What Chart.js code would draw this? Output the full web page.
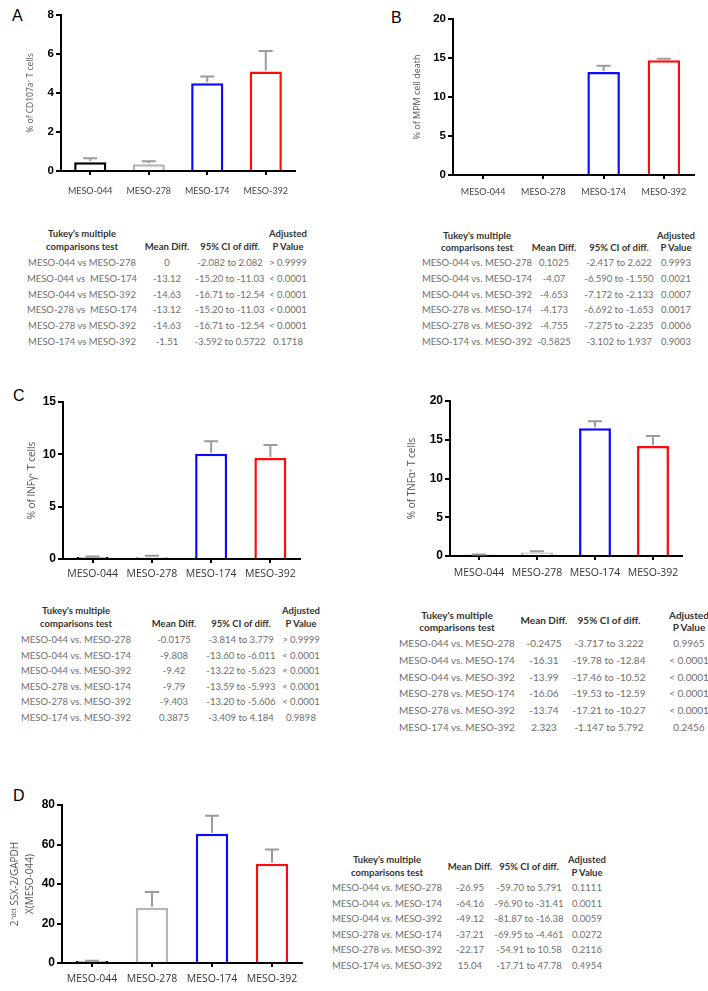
<!DOCTYPE html>
<html>
<head>
<meta charset="utf-8">
<script src="https://cdn.jsdelivr.net/npm/chart.js@4.4.0/dist/chart.umd.min.js"></script>
<style>
  html, body { margin: 0; padding: 0; background: #fff; }
  #page { position: relative; width: 708px; height: 991px; overflow: hidden; }
  canvas { position: absolute; }
  .letter { position: absolute; font: 16px 'Liberation Sans', Arial, sans-serif; line-height: 1; color: #000; }
  .cell { position: absolute; transform: translate(-50%, -50%); white-space: pre; color: #6e6e6e; font-family: Lato, sans-serif; }
  .cell.hd { color: #333; font-weight: bold; }
</style>
</head>
<body>
<div id="page">
  <div class="letter" style="left:12px;top:8px">A</div>
  <div class="letter" style="left:391px;top:10px">B</div>
  <div class="letter" style="left:13px;top:388px">C</div>
  <div class="letter" style="left:13px;top:788px">D</div>
  <canvas id="chartA" width="300" height="205" style="left:0;top:0"></canvas>
  <canvas id="chartB" width="345" height="209" style="left:354px;top:0"></canvas>
  <canvas id="chartC" width="305" height="204" style="left:0;top:385px"></canvas>
  <canvas id="chartT" width="335" height="204" style="left:354px;top:385px"></canvas>
  <canvas id="chartD" width="310" height="201" style="left:0;top:790px"></canvas>
</div>
<script>
'use strict';

/* ── Data ───────────────────────────────────────────────────────── */
const groups = ['MESO-044', 'MESO-278', 'MESO-174', 'MESO-392'];

const cd107aMean = [0.45, 0.35, 4.5, 5.1];
const cd107aSem  = [0.2, 0.15, 0.35, 1.05];
const cd107aTicks = [0, 2, 4, 6, 8];

const mpmDeathMean = [0, 0, 13.2, 14.7];
const mpmDeathSem  = [0, 0, 0.8, 0.2];
const mpmDeathTicks = [0, 5, 10, 15, 20];

const ifngMean = [0.2, 0.2, 10.05, 9.65];
const ifngSem  = [0.05, 0.1, 1.2, 1.25];
const ifngTicks = [0, 5, 10, 15];

const tnfaMean = [0.15, 0.45, 16.5, 14.2];
const tnfaSem  = [0.05, 0.15, 0.9, 1.3];
const tnfaTicks = [0, 5, 10, 15, 20];

const ssx2Mean = [1.0, 28, 65.5, 50.2];
const ssx2Sem  = [0.2, 8, 9, 7.3];
const ssx2Ticks = [0, 20, 40, 60, 80];

const statsA = [
  ['MESO-044 vs MESO-278', '0', '-2.082 to 2.082', '> 0.9999'],
  ['MESO-044 vs  MESO-174', '-13.12', '-15.20 to -11.03', '< 0.0001'],
  ['MESO-044 vs MESO-392', '-14.63', '-16.71 to -12.54', '< 0.0001'],
  ['MESO-278 vs  MESO-174', '-13.12', '-15.20 to -11.03', '< 0.0001'],
  ['MESO-278 vs MESO-392', '-14.63', '-16.71 to -12.54', '< 0.0001'],
  ['MESO-174 vs MESO-392', '-1.51', '-3.592 to 0.5722', '0.1718'],
];
const statsB = [
  ['MESO-044 vs. MESO-278', '0.1025', '-2.417 to 2.622', '0.9993'],
  ['MESO-044 vs. MESO-174', '-4.07', '-6.590 to -1.550', '0.0021'],
  ['MESO-044 vs. MESO-392', '-4.653', '-7.172 to -2.133', '0.0007'],
  ['MESO-278 vs. MESO-174', '-4.173', '-6.692 to -1.653', '0.0017'],
  ['MESO-278 vs. MESO-392', '-4.755', '-7.275 to -2.235', '0.0006'],
  ['MESO-174 vs. MESO-392', '-0.5825', '-3.102 to 1.937', '0.9003'],
];
const statsC = [
  ['MESO-044 vs. MESO-278', '-0.0175', '-3.814 to 3.779', '> 0.9999'],
  ['MESO-044 vs. MESO-174', '-9.808', '-13.60 to -6.011', '< 0.0001'],
  ['MESO-044 vs. MESO-392', '-9.42', '-13.22 to -5.623', '< 0.0001'],
  ['MESO-278 vs. MESO-174', '-9.79', '-13.59 to -5.993', '< 0.0001'],
  ['MESO-278 vs. MESO-392', '-9.403', '-13.20 to -5.606', '< 0.0001'],
  ['MESO-174 vs. MESO-392', '0.3875', '-3.409 to 4.184', '0.9898'],
];
const statsT = [
  ['MESO-044 vs. MESO-278', '-0.2475', '-3.717 to 3.222', '0.9965'],
  ['MESO-044 vs. MESO-174', '-16.31', '-19.78 to -12.84', '< 0.0001'],
  ['MESO-044 vs. MESO-392', '-13.99', '-17.46 to -10.52', '< 0.0001'],
  ['MESO-278 vs. MESO-174', '-16.06', '-19.53 to -12.59', '< 0.0001'],
  ['MESO-278 vs. MESO-392', '-13.74', '-17.21 to -10.27', '< 0.0001'],
  ['MESO-174 vs. MESO-392', '2.323', '-1.147 to 5.792', '0.2456'],
];
const statsD = [
  ['MESO-044 vs. MESO-278', '-26.95', '-59.70 to 5.791', '0.1111'],
  ['MESO-044 vs. MESO-174', '-64.16', '-96.90 to -31.41', '0.0011'],
  ['MESO-044 vs. MESO-392', '-49.12', '-81.87 to -16.38', '0.0059'],
  ['MESO-278 vs. MESO-174', '-37.21', '-69.95 to -4.461', '0.0272'],
  ['MESO-278 vs. MESO-392', '-22.17', '-54.91 to 10.58', '0.2116'],
  ['MESO-174 vs. MESO-392', '15.04', '-17.71 to 47.78', '0.4954'],
];

const barColors = ['#000000', '#b5b5b5', '#0a0aff', '#ff0a0a'];

/* ── Error bars (SEM, upper side only) ──────────────────────────── */
const errorBars = {
  id: 'errorBars',
  afterDatasetsDraw(chart) {
    const ds = chart.data.datasets[0];
    const meta = chart.getDatasetMeta(0);
    const y = chart.scales.y;
    const ctx = chart.ctx;
    ctx.save();
    ctx.strokeStyle = '#9b9b9b';
    ctx.lineWidth = 2;
    meta.data.forEach((bar, i) => {
      const e = ds.errors[i];
      if (!e) return;
      const y0 = y.getPixelForValue(ds.data[i]) - 1;
      const y1 = y.getPixelForValue(ds.data[i] + e);
      ctx.beginPath();
      ctx.moveTo(bar.x, y0);
      ctx.lineTo(bar.x, y1);
      ctx.moveTo(bar.x - 7, y1);
      ctx.lineTo(bar.x + 7, y1);
      ctx.stroke();
    });
    ctx.restore();
  },
};

/* ── Chart builder ──────────────────────────────────────────────── */
function makeChart(id, means, sems, ticks, o) {
  new Chart(document.getElementById(id), {
    type: 'bar',
    data: {
      labels: groups,
      datasets: [{
        data: means,
        errors: sems,
        backgroundColor: '#ffffff',
        borderColor: barColors,
        borderWidth: 2.5,
        borderSkipped: 'start',
        categoryPercentage: 1,
        barPercentage: o.barPct,
      }],
    },
    plugins: [errorBars],
    options: {
      responsive: false,
      devicePixelRatio: 1,
      animation: false,
      events: [],
      layout: { padding: { top: o.padTop, right: o.padRight, left: 0, bottom: 0 } },
      plugins: { legend: { display: false }, tooltip: { enabled: false } },
      scales: {
        x: {
          grid: { display: true, drawOnChartArea: false, drawTicks: true, tickLength: 4,
                  offset: false, color: '#000', lineWidth: 2 },
          border: { display: true, color: '#000', width: 2 },
          ticks: { autoSkip: false, maxRotation: 0, padding: o.xPad, color: o.catColor,
                   font: { family: o.catFamily, size: o.catSize } },
          afterFit: s => { s.height = o.xH; },
        },
        y: {
          min: ticks[0],
          max: ticks[ticks.length - 1],
          afterBuildTicks: s => { s.ticks = ticks.map(v => ({ value: v })); },
          grid: { display: true, drawOnChartArea: false, drawTicks: true, tickLength: 5,
                  color: '#000', lineWidth: 2 },
          border: { display: true, color: '#000', width: 2 },
          ticks: { padding: 2, color: '#000',
                   font: { family: "'Liberation Sans', Arial, sans-serif", weight: 'bold', size: o.tickSize } },
          title: { display: true, text: o.title, color: '#555',
                   padding: { top: o.titlePad, bottom: 0 },
                   font: { family: "'Open Sans', sans-serif", size: o.titleSize, lineHeight: o.titleLH || 1.2 } },
          afterFit: s => { s.width = o.yW; },
        },
      },
    },
  });
}

makeChart('chartA', cd107aMean, cd107aSem, cd107aTicks, {
  padTop: 15, padRight: 5, yW: 61, xH: 34, barPct: 0.55, xPad: 11,
  catFamily: 'Lato, sans-serif', catSize: 9, catColor: '#444', tickSize: 11.5,
  title: '% of CD107a\u207A T cells', titleSize: 8.5, titlePad: 25,
});
makeChart('chartB', mpmDeathMean, mpmDeathSem, mpmDeathTicks, {
  padTop: 19, padRight: 5, yW: 99, xH: 34, barPct: 0.54, xPad: 8,
  catFamily: 'Lato, sans-serif', catSize: 9, catColor: '#444', tickSize: 11.5,
  title: '% of MPM cell death', titleSize: 9, titlePad: 58,
});
makeChart('chartC', ifngMean, ifngSem, ifngTicks, {
  padTop: 17, padRight: 5, yW: 63, xH: 30, barPct: 0.54, xPad: 5,
  catFamily: "'Open Sans', sans-serif", catSize: 10.5, catColor: '#333', tickSize: 12,
  title: '% of INF\u03B3\u207A T cells', titleSize: 10, titlePad: 26,
});
makeChart('chartT', tnfaMean, tnfaSem, tnfaTicks, {
  padTop: 16, padRight: 7, yW: 96, xH: 33, barPct: 0.55, xPad: 7,
  catFamily: "'Open Sans', sans-serif", catSize: 10.5, catColor: '#333', tickSize: 12,
  title: '% of TNF\u03B1\u207A T cells', titleSize: 10, titlePad: 52,
});
makeChart('chartD', ssx2Mean, ssx2Sem, ssx2Ticks, {
  padTop: 15, padRight: 8, yW: 62, xH: 28, barPct: 0.54, xPad: 6,
  catFamily: "'Open Sans', sans-serif", catSize: 10.5, catColor: '#333', tickSize: 12,
  title: ['2\u207B\u1D48\u1D9C\u1D57 SSX-2/GAPDH', 'X(MESO-044)'], titleSize: 10, titleLH: 1.5, titlePad: 8,
});

/* ── Tukey tables ───────────────────────────────────────────────── */
const page = document.getElementById('page');
function put(text, x, y, size, hd) {
  const d = document.createElement('div');
  d.className = hd ? 'cell hd' : 'cell';
  d.style.left = x + 'px';
  d.style.top = y + 'px';
  d.style.fontSize = size + 'px';
  d.textContent = text;
  page.appendChild(d);
}
function table(rows, t) {
  const [c0, c1, c2, c3] = t.cols;
  put("Tukey's multiple", c0, t.y1, t.size, true);
  put('comparisons test', c0, t.y2, t.size, true);
  put('Mean Diff.', c1, t.mid, t.size, true);
  put('95% CI of diff.', c2, t.mid, t.size, true);
  put('Adjusted', c3, t.y1, t.size, true);
  put('P Value', c3, t.y2, t.size, true);
  rows.forEach((r, i) => {
    const y = t.row0 + i * t.gap;
    r.forEach((txt, j) => put(txt, t.cols[j], y, t.size, false));
  });
}
table(statsA, { cols: [82, 167, 230, 288], y1: 233, y2: 246, mid: 246, row0: 262, gap: 15.8, size: 9.5 });
table(statsB, { cols: [477, 554, 619, 676], y1: 235, y2: 247, mid: 247, row0: 262, gap: 15.8, size: 9.5 });
table(statsC, { cols: [76, 174, 241, 301], y1: 610, y2: 623, mid: 623, row0: 639, gap: 15.5, size: 9.5 });
table(statsT, { cols: [457, 544, 609, 689], y1: 615, y2: 627, mid: 620, row0: 643, gap: 16.8, size: 10 });
table(statsD, { cols: [387, 470, 529, 587], y1: 859, y2: 872, mid: 866, row0: 887, gap: 15.5, size: 9.5 });
</script>
</body>
</html>
